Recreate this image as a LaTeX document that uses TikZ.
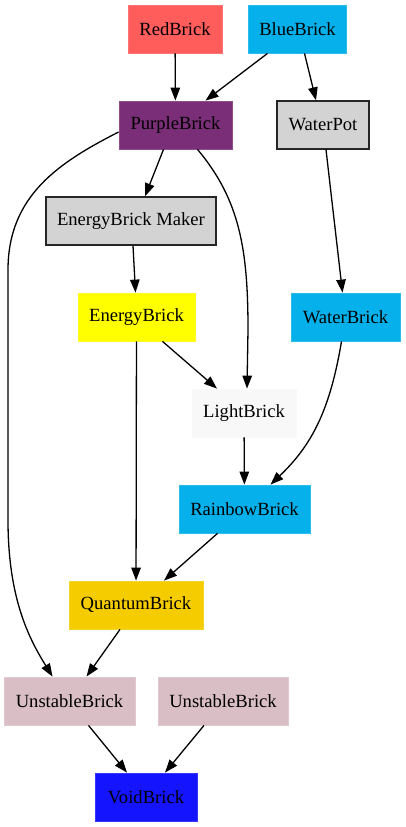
\documentclass[tikz,border=0pt]{standalone}
\usepackage{fontspec}
\setmainfont{Liberation Serif}
\usetikzlibrary{arrows.meta}
\definecolor{cred}{HTML}{FF5C5C}
\definecolor{cblue}{HTML}{06B0EA}
\definecolor{cpurple}{HTML}{7A2E77}
\definecolor{cgray}{HTML}{D3D3D3}
\definecolor{cyellow}{HTML}{FFFF00}
\definecolor{clight}{HTML}{F8F8F8}
\definecolor{cgold}{HTML}{F5CC00}
\definecolor{cpink}{HTML}{D9BFC5}
\definecolor{cvoid}{HTML}{1414FF}
\tikzset{
  brick/.style={rectangle, inner sep=0pt, minimum height=48pt, font=\fontsize{18.6}{20}\selectfont, text=black},
  solid brick/.style={brick, fill=#1, draw=#1!85!white, line width=0.8pt},
  gray brick/.style={brick, fill=cgray, draw=black!85, line width=1.3pt},
  edge/.style={line width=1.3pt, -{Triangle[length=13pt,width=9.5pt]}},
}
\begin{document}
\begin{tikzpicture}[x=1pt,y=-1pt]
\useasboundingbox (0,0) rectangle (405,827);
\node[solid brick=cred, minimum width=94pt] (red) at (175,29) {RedBrick};
\node[solid brick=cblue, minimum width=98pt] (blue) at (297.5,29) {BlueBrick};
\node[solid brick=cpurple, minimum width=113pt] (purple) at (175.5,125) {PurpleBrick};
\node[gray brick, minimum width=92pt] (pot) at (323,125) {WaterPot};
\node[gray brick, minimum width=170pt] (maker) at (131,221) {EnergyBrick Maker};
\node[solid brick=cyellow, minimum width=117pt] (energy) at (136.5,317) {EnergyBrick};
\node[solid brick=cblue, minimum width=109pt] (water) at (345.5,317) {WaterBrick};
\node[solid brick=clight, minimum width=104pt] (light) at (244,413) {LightBrick};
\node[solid brick=cblue, minimum width=131pt] (rainbow) at (244.5,509) {RainbowBrick};
\node[solid brick=cgold, minimum width=134pt] (quantum) at (136,605) {QuantumBrick};
\node[solid brick=cpink, minimum width=131pt] (unst1) at (69.5,701) {UnstableBrick};
\node[solid brick=cpink, minimum width=130pt] (unst2) at (223,701) {UnstableBrick};
\node[solid brick=cvoid, minimum width=102pt] (void) at (146,797) {VoidBrick};

\draw[edge] (red) -- (purple);
\draw[edge] ([xshift=-30pt]blue.south) -- ([xshift=30pt]purple.north);
\draw[edge] ([xshift=7pt]blue.south) -- ([xshift=-7pt]pot.north);
\draw[edge] ([xshift=-12pt]purple.south) -- ([xshift=14pt]maker.north);
\draw[edge] ([yshift=-7pt]purple.west) .. controls (60,162) and (8,195) .. (8,270) -- (8,520) .. controls (8,600) and (30,640) .. ([xshift=-17pt]unst1.north);
\draw[edge] ([xshift=22pt]purple.south) .. controls (240,200) and (248,250) .. (248,330) -- ([xshift=3pt]light.north);
\draw[edge] ([xshift=3pt]pot.south) -- ([xshift=-3pt]water.north);
\draw[edge] ([xshift=2pt]maker.south) -- ([xshift=-1pt]energy.north);
\draw[edge] ([xshift=26pt]energy.south) -- ([xshift=-27pt]light.north);
\draw[edge] (energy) -- (quantum);
\draw[edge] ([xshift=-4pt]water.south) .. controls (330,410) and (312,445) .. ([xshift=26pt]rainbow.north);
\draw[edge] (light) -- (rainbow);
\draw[edge] ([xshift=-27pt]rainbow.south) -- ([xshift=28pt]quantum.north);
\draw[edge] ([xshift=-16pt]quantum.south) -- ([xshift=17pt]unst1.north);
\draw[edge] ([xshift=19pt]unst1.south) -- ([xshift=-19pt]void.north);
\draw[edge] ([xshift=-19pt]unst2.south) -- ([xshift=19pt]void.north);
\end{tikzpicture}
\end{document}
